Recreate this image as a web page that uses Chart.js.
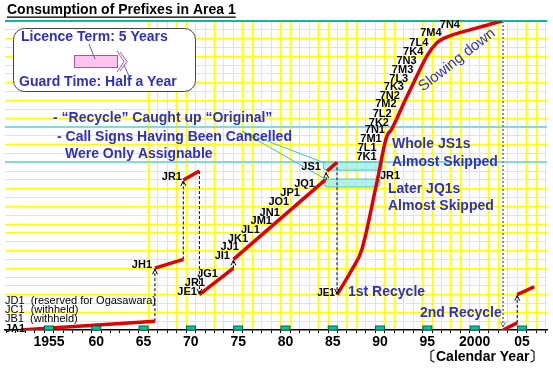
<!DOCTYPE html>
<html>
<head>
<meta charset="utf-8">
<script src="https://cdn.jsdelivr.net/npm/chart.js@4.4.1/dist/chart.umd.min.js"></script>
<style>
  html, body { margin: 0; padding: 0; background: #fff; }
</style>
</head>
<body>
<canvas id="chart" width="553" height="368"></canvas>
<script>
const FONT = '"Liberation Sans", Arial, sans-serif';
const BLUE = '#3030c0';
const RED = '#e00000';

// X axis (calendar years, label year sits in the middle of its cell)
const yearMin = 1950.35, yearMax = 2007.65;
const labelYears = [1955, 1960, 1965, 1970, 1975, 1980, 1985, 1990, 1995, 2000, 2005];
const labelTexts = ['1955', '60', '65', '70', '75', '80', '85', '90', '95', '2000', '05'];
const gridFromYear = 1965.5;

// Y axis: one step per prefix
const levelMax = 35;
const tealLevels = [19, 23];

// Consumption lines (year, prefix level)
const jaYears = [1952.0, 1966.2],  jaLevels = [0, 1];
const jhYears = [1966.2, 1969.2],  jhLevels = [7, 8];
const jrYears = [1969.2, 1970.9],  jrLevels = [17, 18];
const jeYears = [1970.9, 1974.5],  jeLevels = [4, 7];
const jiYears = [1974.5, 1984.2],  jiLevels = [8, 17];
const jsYears = [1984.4, 1985.45], jsLevels = [18, 19];
const recycle1Years  = [1985.45, 1987.0, 1988.06, 1989.64, 1990.7, 1991.2, 1992.64, 1994.04, 1994.93, 1995.98, 1996.68, 2000.56, 2002.9];
const recycle1Levels = [4, 6.8, 9.06, 16.6, 21.9, 22.7, 26.0, 29.1, 31.0, 32.5, 33.0, 34.3, 35.0];
const recycle2aYears = [2003.0, 2004.5], recycle2aLevels = [0, 0.8];
const recycle2bYears = [2004.5, 2006.3], recycle2bLevels = [4, 4.9];

// Dotted jumps
const jumpYears = [1966.2, 1969.2, 1970.9, 1974.5, 1984.3, 1985.45, 2004.5];
const jumpFrom  = [1, 8, 18, 7, 17, 19, 0.8];
const jumpTo    = [7, 17, 4, 8, 17.9, 4, 4];
const guardYear = 2003.0;

// Skipped bands
const boxStart = [1984.0, 1984.1], boxEnd = [1990.3, 1990.0];
const boxLow = [18.1, 16.2], boxHigh = [19.0, 17.1];

// Prefix labels (right edge year, level)
const leftLabels = ['JH1', 'JR1', 'JG1', 'JR1', 'JE1', 'JI1', 'JJ1', 'JK1', 'JL1', 'JM1', 'JN1', 'JO1', 'JP1', 'JQ1', 'JS1'];
const leftLabelYears = [1965.89, 1969.06, 1972.86, 1971.49, 1970.64, 1974.13, 1975.08, 1976.04, 1977.3, 1978.57, 1979.4, 1980.4, 1981.53, 1983.12, 1983.75];
const leftLabelLevels = [7.36, 17.3, 6.3, 5.3, 4.3, 8.4, 9.35, 10.3, 11.3, 12.3, 13.3, 14.5, 15.5, 16.5, 18.5];
const rightLabels = ['7K1', '7L1', '7M1', '7N1', '7K2', '7L2', '7M2', '7N2', '7K3', '7L3', '7M3', '7N3', '7K4', '7L4', '7M4', '7N4'];
const rightLabelYears = [1989.64, 1989.64, 1990.17, 1990.52, 1990.94, 1991.23, 1991.75, 1992.1, 1992.53, 1992.98, 1993.51, 1993.87, 1994.57, 1995.1, 1996.51, 1998.45];
const rightLabelLevels = [19.55, 20.6, 21.6, 22.65, 23.5, 24.5, 25.6, 26.5, 27.5, 28.4, 29.4, 30.5, 31.5, 32.5, 33.6, 34.5];
const baseLabels = ['JA1', 'JB1  (withheld)', 'JC1  (withheld)', 'JD1  (reserved for Ogasawara)'];
const baseLabelLevels = [0.1, 1.2, 2.3, 3.3];

function pts(xs, ys) {
  return xs.map((x, i) => ({ x: x, y: ys[i] }));
}

const redLine = (xs, ys, extra) => Object.assign({
  data: pts(xs, ys), borderColor: RED, borderWidth: 3.5, pointRadius: 0,
  borderCapStyle: 'butt', tension: 0
}, extra || {});

const datasets = [
  redLine(jaYears, jaLevels),
  redLine(jhYears, jhLevels),
  redLine(jrYears, jrLevels),
  redLine(jeYears, jeLevels),
  redLine(jiYears, jiLevels),
  redLine(jsYears, jsLevels),
  redLine(recycle1Years, recycle1Levels, { cubicInterpolationMode: 'monotone' }),
  redLine(recycle2aYears, recycle2aLevels),
  redLine(recycle2bYears, recycle2bLevels)
];
jumpYears.forEach((yr, i) => {
  datasets.push({
    data: pts([yr, yr], [jumpFrom[i], jumpTo[i]]),
    borderColor: '#000', borderWidth: 1, borderDash: [3, 2], pointRadius: 0
  });
});
datasets.push({
  data: pts([guardYear, guardYear], [levelMax, 0]),
  borderColor: '#909090', borderWidth: 2, borderDash: [2, 2], pointRadius: 0
});

function arrowHead(ctx, px, py, dir) {
  ctx.beginPath();
  ctx.moveTo(px - 2.5, py - dir * 5);
  ctx.lineTo(px, py);
  ctx.lineTo(px + 2.5, py - dir * 5);
  ctx.stroke();
}

function text(ctx, str, px, py, font, color, align) {
  ctx.font = font;
  ctx.fillStyle = color;
  ctx.textAlign = align || 'left';
  ctx.textBaseline = 'middle';
  ctx.fillText(str, px, py);
}

const notes = {
  id: 'notes',
  beforeDatasetsDraw(chart) {
    const { ctx, scales: { x, y } } = chart;
    ctx.save();
    // skipped bands
    boxStart.forEach((b, i) => {
      const x0 = x.getPixelForValue(b), x1 = x.getPixelForValue(boxEnd[i]);
      const y0 = y.getPixelForValue(boxHigh[i]), y1 = y.getPixelForValue(boxLow[i]);
      ctx.beginPath();
      ctx.roundRect(x0, y0, x1 - x0, y1 - y0, 3);
      ctx.fillStyle = 'rgba(150,235,235,0.75)';
      ctx.fill();
      ctx.strokeStyle = '#50c8c0';
      ctx.lineWidth = 1;
      ctx.stroke();
    });
    // pointer lines from the note text
    ctx.strokeStyle = '#40c0c0';
    ctx.lineWidth = 1;
    const sx = x.getPixelForValue(1975.4), sy = y.getPixelForValue(22.5);
    [[1984.2, 18.9], [1984.35, 17.0]].forEach(p => {
      ctx.beginPath();
      ctx.moveTo(sx, sy);
      ctx.lineTo(x.getPixelForValue(p[0]), y.getPixelForValue(p[1]));
      ctx.stroke();
    });
    ctx.restore();
  },
  afterDatasetsDraw(chart) {
    const { ctx, chartArea, scales: { x, y } } = chart;
    ctx.save();

    // arrow heads
    ctx.strokeStyle = '#000';
    ctx.lineWidth = 1;
    jumpYears.forEach((yr, i) => {
      const dir = jumpTo[i] > jumpFrom[i] ? -1 : 1;
      arrowHead(ctx, x.getPixelForValue(yr), y.getPixelForValue(jumpTo[i]) + (dir > 0 ? -1 : 1), dir);
    });
    ctx.strokeStyle = '#707070';
    arrowHead(ctx, x.getPixelForValue(guardYear), chartArea.bottom - 3, 1);

    // five-year markers on the axis
    labelYears.forEach(yr => {
      const px = x.getPixelForValue(yr);
      ctx.fillStyle = '#00c89c';
      ctx.strokeStyle = '#006050';
      ctx.fillRect(px - 4.5, chartArea.bottom - 4, 9, 4);
      ctx.strokeRect(px - 4.5, chartArea.bottom - 4, 9, 4);
    });

    // prefix labels
    const bold11 = 'bold 11px ' + FONT;
    leftLabels.forEach((t, i) => text(ctx, t, x.getPixelForValue(leftLabelYears[i]), y.getPixelForValue(leftLabelLevels[i]), bold11, '#000', 'right'));
    rightLabels.forEach((t, i) => text(ctx, t, x.getPixelForValue(rightLabelYears[i]), y.getPixelForValue(rightLabelLevels[i]), bold11, '#000', 'right'));
    text(ctx, 'JR1', x.getPixelForValue(1989.99), y.getPixelForValue(17.4), bold11, '#000', 'left');
    text(ctx, 'JE1', x.getPixelForValue(1985.23), y.getPixelForValue(4.15), 'bold 10px ' + FONT, '#000', 'right');
    baseLabels.forEach((t, i) => text(ctx, t, chartArea.left, y.getPixelForValue(baseLabelLevels[i]), (i === 0 ? 'bold ' : '') + '11px ' + FONT, '#000', 'left'));

    // title
    text(ctx, 'Consumption of Prefixes in Area 1', 7, 10, 'bold 14px ' + FONT, '#000');
    ctx.fillStyle = '#000';
    ctx.fillRect(7, 16.5, ctx.measureText('Consumption of Prefixes in Area 1').width, 1.3);

    // legend box
    ctx.beginPath();
    ctx.roundRect(13.5, 28.5, 182, 63, 11);
    ctx.fillStyle = '#fff';
    ctx.fill();
    ctx.strokeStyle = '#444';
    ctx.lineWidth = 1;
    ctx.stroke();
    const b14 = 'bold 14px ' + FONT;
    text(ctx, 'Licence Term: 5 Years', 21, 37.5, b14, BLUE);
    text(ctx, 'Guard Time: Half a Year', 19, 82, b14, BLUE);
    ctx.fillStyle = '#ffc4ee';
    ctx.strokeStyle = '#b050a8';
    ctx.fillRect(74, 55, 44, 13);
    ctx.strokeRect(74.5, 55.5, 43, 12);
    ctx.beginPath();
    ctx.moveTo(117, 51); ctx.lineTo(124, 61.5); ctx.lineTo(117, 72);
    ctx.moveTo(120, 52); ctx.lineTo(127, 61.5); ctx.lineTo(120, 71);
    ctx.stroke();
    ctx.strokeStyle = '#6060c0';
    ctx.beginPath();
    ctx.moveTo(89, 44); ctx.lineTo(95, 59);
    ctx.moveTo(124, 65); ctx.lineTo(129, 76);
    ctx.stroke();

    // blue notes
    text(ctx, '- \u201cRecycle\u201d Caught up \u201cOriginal\u201d', 53, 118, b14, BLUE);
    text(ctx, '- Call Signs Having Been Cancelled', 57, 137, b14, BLUE);
    text(ctx, 'Were Only Assignable', 65, 154, b14, BLUE);
    text(ctx, 'Whole JS1s', 392, 144, b14, BLUE);
    text(ctx, 'Almost Skipped', 392, 162, b14, BLUE);
    text(ctx, 'Later JQ1s', 388, 189, b14, BLUE);
    text(ctx, 'Almost Skipped', 388, 206, b14, BLUE);
    text(ctx, '1st Recycle', 348, 292, b14, BLUE);
    text(ctx, '2nd Recycle', 420, 313, b14, BLUE);
    ctx.save();
    ctx.translate(457, 60);
    ctx.rotate(-38 * Math.PI / 180);
    text(ctx, 'Slowing down', 0, 0, '15px ' + FONT, BLUE, 'center');
    ctx.restore();

    // axis caption
    text(ctx, '\u3014Calendar Year\u3015', 422, 357, b14, '#000');
    ctx.restore();
  }
};

new Chart(document.getElementById('chart'), {
  type: 'line',
  data: { datasets: datasets },
  plugins: [notes],
  options: {
    responsive: false,
    animation: false,
    events: [],
    layout: { padding: { left: 5, right: 6, top: 21, bottom: 0 } },
    plugins: { legend: { display: false }, tooltip: { enabled: false } },
    scales: {
      x: {
        type: 'linear',
        min: yearMin,
        max: yearMax,
        afterBuildTicks(scale) {
          const ticks = [];
          for (let v = Math.ceil(yearMin - 0.5) + 0.5; v <= yearMax; v += 1) ticks.push({ value: v });
          scale.ticks = ticks;
        },
        afterFit(scale) { scale.height = 38; },
        grid: {
          color: ctx => (ctx.tick && ctx.tick.value >= gridFromYear) ? '#ffff00' : 'rgba(0,0,0,0)',
          tickColor: '#000',
          tickLength: 3,
          lineWidth: 1
        },
        border: { color: '#000', width: 1.5 },
        ticks: {
          autoSkip: false,
          maxRotation: 0,
          padding: 1,
          labelOffset: 4.73,
          color: '#000',
          font: { family: FONT, size: 14, weight: 'bold' },
          callback(value) {
            const i = labelYears.indexOf(Math.round(value + 0.5));
            return i >= 0 ? labelTexts[i] : '';
          }
        }
      },
      y: {
        type: 'linear',
        min: 0,
        max: levelMax,
        afterBuildTicks(scale) {
          const ticks = [];
          for (let v = 0; v <= levelMax; v++) ticks.push({ value: v });
          scale.ticks = ticks;
        },
        afterFit(scale) { scale.width = 0; },
        ticks: { display: false },
        border: { display: false },
        grid: {
          drawTicks: false,
          lineWidth: ctx => (ctx.tick.value === levelMax || tealLevels.includes(ctx.tick.value)) ? 2 : 1,
          color: ctx => {
            const v = ctx.tick.value;
            if (v === 0) return 'rgba(0,0,0,0)';
            if (v === levelMax) return '#10b8a0';
            if (tealLevels.includes(v)) return '#80dcd8';
            return '#ffff00';
          }
        }
      }
    }
  }
});
</script>
</body>
</html>
